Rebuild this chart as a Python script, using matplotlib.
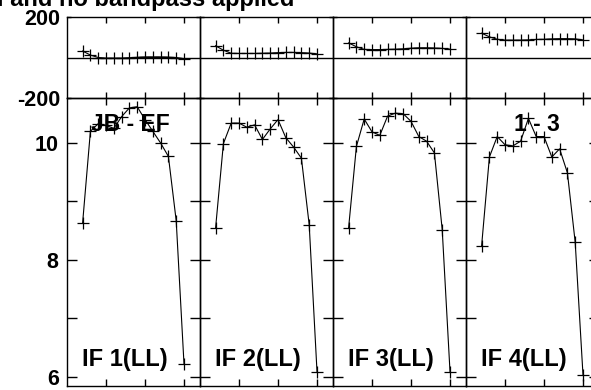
import matplotlib
matplotlib.use("Agg")
import matplotlib.pyplot as plt
from matplotlib.ticker import MultipleLocator, FixedLocator

plt.rcParams['font.family'] = ['Liberation Sans', 'DejaVu Sans']
plt.rcParams['font.weight'] = 'bold'

channels = list(range(2, 16))
if_labels = ["IF 1(LL)", "IF 2(LL)", "IF 3(LL)", "IF 4(LL)"]
amp_if1 = [8.63, 10.20, 10.33, 10.30, 10.25, 10.45, 10.60, 10.62, 10.40, 10.20, 10.00, 9.77, 8.67, 6.22]
amp_if2 = [8.55, 9.99, 10.34, 10.34, 10.27, 10.31, 10.06, 10.24, 10.40, 10.09, 9.93, 9.74, 8.60, 6.09]
amp_if3 = [8.55, 9.94, 10.41, 10.19, 10.13, 10.46, 10.51, 10.50, 10.37, 10.11, 10.03, 9.83, 8.52, 6.09]
amp_if4 = [8.24, 9.76, 10.11, 9.97, 9.95, 10.03, 10.42, 10.11, 10.11, 9.76, 9.90, 9.49, 8.30, 6.03]
ph_if1 = [32, 12, 0, -3, -3, -3, -1, 1, 3, 3, 3, 2, 0, -6]
ph_if2 = [58, 36, 21, 20, 20, 20, 21, 22, 24, 25, 25, 24, 22, 18]
ph_if3 = [72, 53, 40, 39, 39, 40, 41, 43, 46, 48, 48, 47, 45, 41]
ph_if4 = [120, 102, 90, 86, 86, 86, 87, 89, 90, 92, 93, 93, 92, 87]
amps = [amp_if1, amp_if2, amp_if3, amp_if4]
phases = [ph_if1, ph_if2, ph_if3, ph_if4]
phase_ticks = [-200, 200]
amp_ticks = [6, 8, 10]
chan_ticks = [5, 10, 15]

W, H = 591, 390
fig = plt.figure(figsize=(W / 100, H / 100), dpi=100)

def px_axes(left, top, width, height):
    return fig.add_axes([left / W, 1 - (top + height) / H, width / W, height / H])

panel_w = 133
x0 = 67
for i in range(4):
    left = x0 + panel_w * i
    axp = px_axes(left, 17, panel_w, 81)
    axa = px_axes(left, 98, panel_w, 288)

    for ax in (axp, axa):
        ax.set_xlim(0, 17.05)
        ax.xaxis.set_major_locator(FixedLocator(chan_ticks))
        ax.tick_params(axis='both', which='both', direction='in', color='black',
                       width=1, labelbottom=False, labelleft=False,
                       top=True, bottom=True, left=True, right=True)
        for s in ax.spines.values():
            s.set_linewidth(1)
            s.set_color('black')
        ax.set_facecolor('none')

    # phase panel
    axp.plot(channels, phases[i], color='black', lw=0.8, marker='+',
             markersize=9, mew=0.9)
    axp.axhline(0, color='black', lw=1)
    axp.set_ylim(-200, 200)
    axp.yaxis.set_major_locator(FixedLocator(phase_ticks))
    axp.tick_params(axis='x', length=4)
    axp.tick_params(axis='y', length=3)

    # amplitude panel
    axa.plot(channels, amps[i], color='black', lw=0.8, marker='+',
             markersize=9, mew=0.9)
    axa.set_ylim(5.846, 10.769)
    axa.yaxis.set_major_locator(FixedLocator(amp_ticks))
    axa.yaxis.set_minor_locator(MultipleLocator(1))
    axa.tick_params(axis='x', length=5)
    axa.tick_params(axis='y', which='both', length=7)

    axa.text(15 / panel_w, (386 - 366) / 288, if_labels[i], transform=axa.transAxes,
             ha='left', va='baseline', fontsize=17, fontweight='bold')

    if i == 0:
        axp.tick_params(axis='y', labelleft=True, pad=5, labelsize=15.5)
        axp.set_yticklabels(['-200', '200'])
        axa.tick_params(axis='y', which='major', labelleft=True, pad=6, labelsize=15.5)
        axa.set_yticklabels(['6', '8', '10'])
        axa.text((130.5 - left) / panel_w, (386 - 131) / 288, "JB - EF",
                 transform=axa.transAxes, ha='center', va='baseline',
                 fontsize=16.5, fontweight='bold')
    if i == 3:
        axa.text((537 - left) / panel_w, (386 - 131) / 288, "1 - 3",
                 transform=axa.transAxes, ha='center', va='baseline',
                 fontsize=16.5, fontweight='bold')

fig.text(-11 / W, 1 - 6 / H, "d and no bandpass applied", ha='left', va='baseline',
         fontsize=17, fontweight='bold')

fig.savefig("out.png", dpi=100)
